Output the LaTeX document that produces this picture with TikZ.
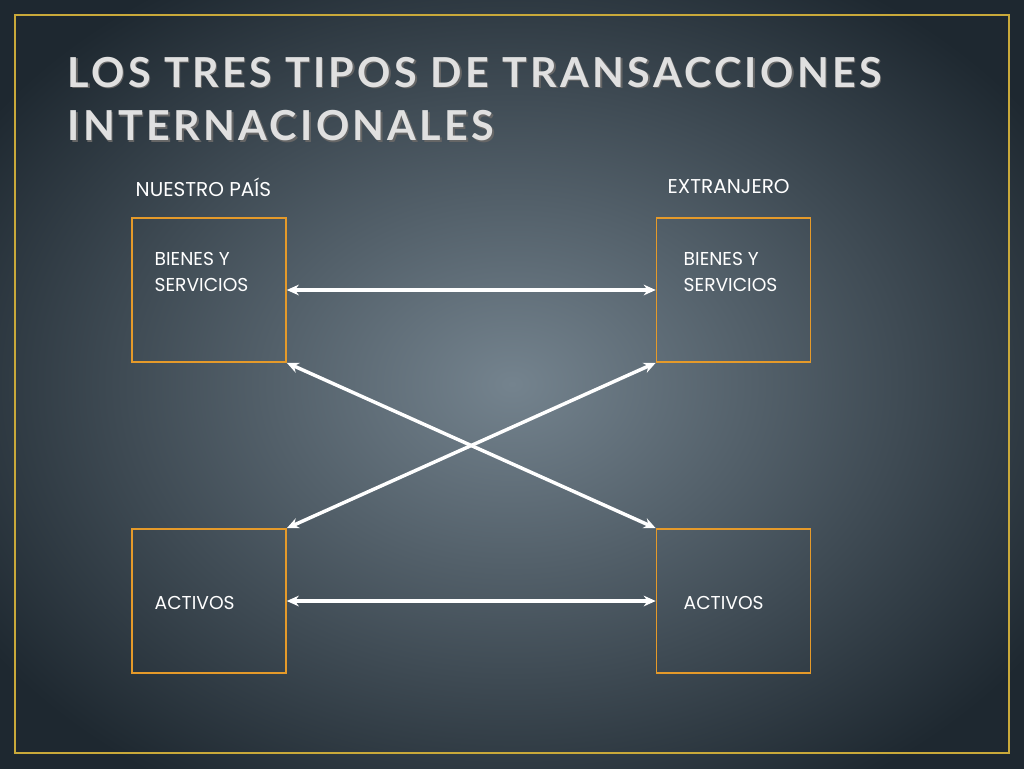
\documentclass[tikz,border=0pt]{standalone}
\usepackage{fontspec}
\setmainfont{Poppins}
\newfontfamily\titlefont{Lato}
\usetikzlibrary{arrows.meta}
\definecolor{bgin}{HTML}{74838E}
\definecolor{bgout}{HTML}{1E2830}
\definecolor{frame}{HTML}{C9A93A}
\definecolor{boxc}{HTML}{E59A2A}
\begin{document}
\begin{tikzpicture}[x=0.75pt,y=-0.75pt,
  bx/.style={draw=boxc,line width=1.2pt,minimum width=115.5pt,minimum height=108pt,inner sep=0},
  lbl/.style={text=white,font=\fontsize{14}{20}\selectfont,align=left,anchor=west},
  arr/.style={draw=white,line width=2.6pt,{Stealth[length=9pt,width=8pt]}-{Stealth[length=9pt,width=8pt]}}]
\useasboundingbox (0,0) rectangle (1024,768);
\shade[inner color=bgin,outer color=bgout] (-120,-90) rectangle (1144,858);
\draw[frame,line width=1.5pt] (15,15) rectangle (1009,753);
\node[text=black!60,anchor=west,font=\titlefont\bfseries\fontsize{31}{40}\selectfont,align=left] at (64.5,100.5) {\addfontfeature{LetterSpace=8}LOS TRES TIPOS DE TRANSACCIONES\\\addfontfeature{LetterSpace=8}INTERNACIONALES};
\node[text=white!88!black,anchor=west,font=\titlefont\bfseries\fontsize{31}{40}\selectfont,align=left] (title) at (63,99) {\addfontfeature{LetterSpace=8}LOS TRES TIPOS DE TRANSACCIONES\\\addfontfeature{LetterSpace=8}INTERNACIONALES};
\node[lbl,font=\fontsize{15}{20}\selectfont] (np) at (131,187) {NUESTRO PAÍS};
\node[lbl,font=\fontsize{15}{20}\selectfont] (ex) at (663,187) {EXTRANJERO};
\node[bx] (a) at (209,290) {};
\node[bx] (b) at (733.5,290) {};
\node[bx] (c) at (209,601) {};
\node[bx] (d) at (733.5,601) {};
\node[lbl] (la) at (150,272) {BIENES Y\\SERVICIOS};
\node[lbl] (lb) at (679,272) {BIENES Y\\SERVICIOS};
\node[lbl] (lc) at (150,603) {ACTIVOS};
\node[lbl] (ld) at (679,603) {ACTIVOS};
\draw[arr] (a.east) -- (b.west);
\draw[arr] (c.east) -- (d.west);
\draw[arr] (a.south east) -- (d.north west);
\draw[arr] (c.north east) -- (b.south west);
\end{tikzpicture}
\end{document}
